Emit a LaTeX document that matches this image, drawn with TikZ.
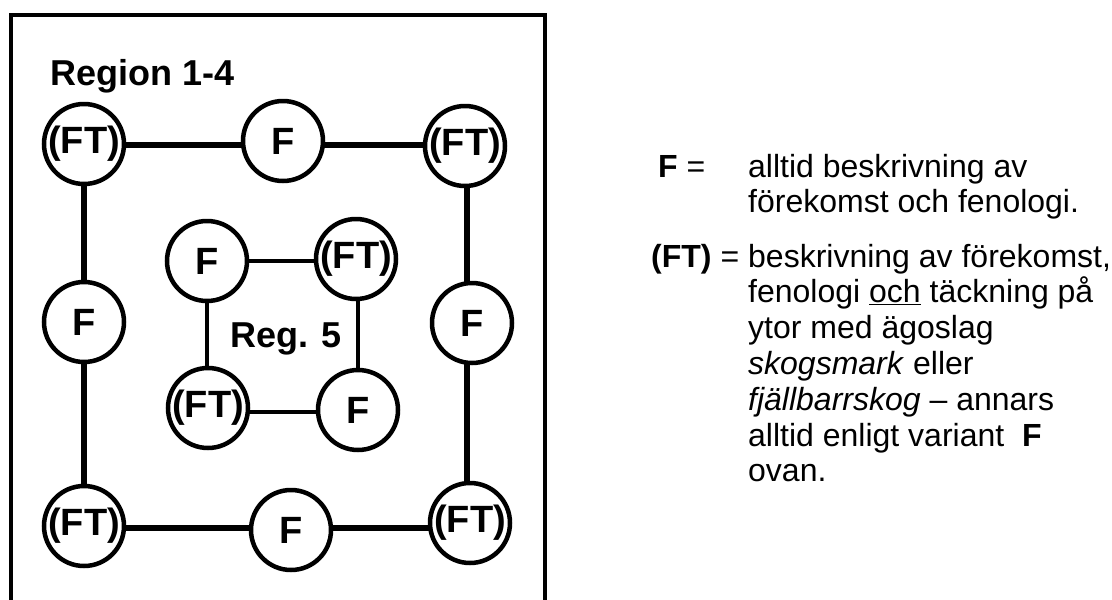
\documentclass[tikz,border=0pt]{standalone}
\usepackage{fontspec}
\setmainfont{Liberation Sans}
\usetikzlibrary{backgrounds}
\begin{document}
\begin{tikzpicture}[x=1pt,y=-1pt,
  circ/.style={circle, draw, line width=4.5pt, fill=white, minimum size=80pt, inner sep=0pt,
    font=\fontsize{38}{40}\selectfont\bfseries},
  outerconn/.style={line width=6pt},
  innerconn/.style={line width=4.5pt},
  lbl/.style={inner sep=0pt, font=\fontsize{36}{40}\selectfont\bfseries},
  legend/.style={inner sep=0pt, anchor=base west, font=\fontsize{32}{36}\selectfont}]
\useasboundingbox (0,0) rectangle (1112,600);
% frame (open at bottom)
\draw[line width=3.5pt] (11,600) -- (11,15) -- (545,15) -- (545,600);
\node[lbl, anchor=base west] (reg14) at (50,85) {Region 1-4};
% outer ring
\node[circ] (tl) at (84,144) {(FT)};
\node[circ] (tf) at (283,141) {F};
\node[circ] (tr) at (465,146) {(FT)};
\node[circ] (lf) at (84,322) {F};
\node[circ] (rf) at (472,323) {F};
\node[circ] (bl) at (84,526) {(FT)};
\node[circ] (bf) at (291,530) {F};
\node[circ] (br) at (470,523) {(FT)};
% inner ring
\node[circ] (if1) at (207,261) {F};
\node[circ] (ift1) at (356,259) {(FT)};
\node[circ] (ift2) at (208,408) {(FT)};
\node[circ] (if2) at (358,410) {F};
\begin{scope}[on background layer]
\draw[outerconn] (tl |- 0,145) -- (tf |- 0,145);
\draw[outerconn] (tf |- 0,145) -- (tr |- 0,145);
\draw[outerconn] (tl -| 84,0) -- (lf -| 84,0);
\draw[outerconn] (lf -| 84,0) -- (bl -| 84,0);
\draw[outerconn] (tr -| 467,0) -- (rf -| 467,0);
\draw[outerconn] (rf -| 467,0) -- (br -| 467,0);
\draw[outerconn] (bl |- 0,528) -- (bf |- 0,528);
\draw[outerconn] (bf |- 0,528) -- (br |- 0,528);
\draw[innerconn] (if1 |- 0,261) -- (ift1 |- 0,261);
\draw[innerconn] (if1 -| 207,0) -- (ift2 -| 207,0);
\draw[innerconn] (ift1 -| 358,0) -- (if2 -| 358,0);
\draw[innerconn] (ift2 |- 0,412) -- (if2 |- 0,412);
\end{scope}
\node[lbl] (reg5) at (286,339) {Reg. 5};
% legend
\node[legend] (kf) at (658,177) {\textbf{F} =};
\node[legend] (l1) at (748,177) {alltid beskrivning av};
\node[legend] (l2) at (748,212.5) {förekomst och fenologi.};
\node[legend] (kft) at (651,267) {\textbf{(FT)} =};
\node[legend] (l3) at (748,267) {beskrivning av förekomst,};
\node[legend] (l4) at (748,302.8) {fenologi \underline{och} täckning på};
\node[legend] (l5) at (748,338.6) {ytor med ägoslag};
\node[legend] (l6) at (748,374.4) {\textit{skogsmark} eller};
\node[legend] (l7) at (748,410.2) {\textit{fjällbarrskog} – annars};
\node[legend] (l8) at (748,446) {alltid enligt variant\ \ \textbf{F}};
\node[legend] (l9) at (748,481.8) {ovan.};
\end{tikzpicture}
\end{document}
